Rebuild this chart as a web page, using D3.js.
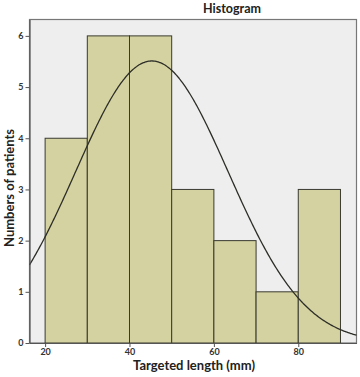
<!DOCTYPE html>
<html><head><meta charset="utf-8">
<script src="https://cdn.jsdelivr.net/npm/d3@7"></script>
<style>body{margin:0;background:#fff}svg{display:block}</style>
</head><body>
<script>
const binStarts = [20, 30, 40, 50, 60, 70, 80];
const binWidth = 10;
const counts = [4, 6, 6, 3, 2, 1, 3];
const xTicks = [20, 40, 60, 80];
const yTicks = [0, 1, 2, 3, 4, 5, 6];
const fitMean = 45.3;
const fitSd = 18.1;
const nTotal = 25;

const W = 360, H = 377;
const m = {left: 29.5, right: 3.5, top: 19.5, bottom: 34};
const svg = d3.select("body").append("svg").attr("width", W).attr("height", H);
const x = d3.scaleLinear().domain([16.3, 93.8]).range([m.left, W - m.right]);
const y = d3.scaleLinear().domain([0, 6.32]).range([H - m.bottom, m.top]);

svg.append("rect").attr("x", m.left).attr("y", m.top)
  .attr("width", W - m.right - m.left).attr("height", H - m.bottom - m.top)
  .attr("fill", "#eeeeee").attr("stroke", "#777").attr("stroke-width", 1.2);

svg.selectAll("rect.bar").data(binStarts).join("rect").attr("class", "bar")
  .attr("x", d => x(d)).attr("width", d => x(d + binWidth) - x(d))
  .attr("y", (d, i) => y(counts[i])).attr("height", (d, i) => y(0) - y(counts[i]))
  .attr("fill", "#d3d2a0").attr("stroke", "#3a3a30").attr("stroke-width", 1);

const pts = d3.range(x.domain()[0], x.domain()[1] + 0.01, 0.25).map(v => {
  const z = (v - fitMean) / fitSd;
  return [v, nTotal * binWidth / (fitSd * Math.sqrt(2 * Math.PI)) * Math.exp(-0.5 * z * z)];
});
svg.append("path").datum(pts)
  .attr("d", d3.line().x(d => x(d[0])).y(d => y(d[1])).curve(d3.curveBasis))
  .attr("fill", "none").attr("stroke", "#2e2e28").attr("stroke-width", 1.3);

// axes
const font = "Lato, 'Open Sans', sans-serif";
const xa = svg.append("g").attr("transform", `translate(0,${H - m.bottom})`)
  .call(d3.axisBottom(x).tickValues(xTicks).tickFormat(d3.format("d")).tickSize(4).tickSizeOuter(0).tickPadding(2));
const ya = svg.append("g").attr("transform", `translate(${m.left},0)`)
  .call(d3.axisLeft(y).tickValues(yTicks).tickFormat(d3.format("d")).tickSize(4).tickSizeOuter(0).tickPadding(2));
[xa, ya].forEach(a => {
  a.select(".domain").attr("stroke", "#555").attr("stroke-width", 1.2);
  a.selectAll(".tick line").attr("stroke", "#555");
  a.selectAll(".tick text").attr("fill", "#333").style("font-family", font)
    .style("font-size", "9px").style("font-weight", "bold");
});

svg.append("text").attr("x", 232).attr("y", 13).attr("text-anchor", "middle")
  .style("font-family", font).style("font-size", "12.5px").style("font-weight", "bold")
  .attr("fill", "#222").text("Histogram");
svg.append("text").attr("x", 194).attr("y", 370).attr("text-anchor", "middle")
  .style("font-family", font).style("font-size", "13px").style("font-weight", "bold")
  .attr("fill", "#222").text("Targeted length (mm)");
svg.append("text").attr("transform", "translate(13.5,188) rotate(-90)").attr("text-anchor", "middle")
  .style("font-family", font).style("font-size", "13px").style("font-weight", "bold")
  .attr("fill", "#222").text("Numbers of patients");
</script>
</body></html>
